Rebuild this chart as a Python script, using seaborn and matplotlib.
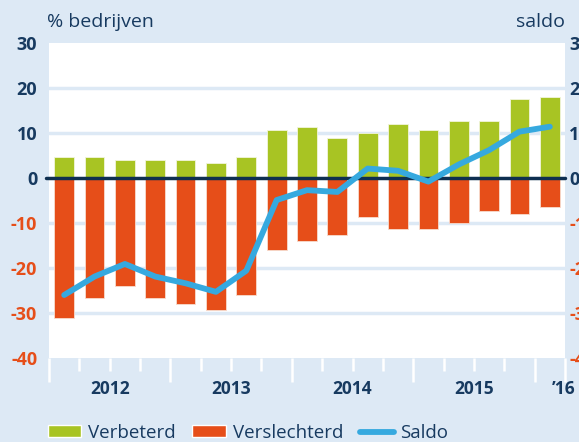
import matplotlib
matplotlib.use("Agg")
import matplotlib.pyplot as plt
import seaborn as sns
import pandas as pd
from matplotlib.patches import Patch
from matplotlib.lines import Line2D

# Data (quarters 2012 Q1 .. 2016 Q1)
quarters = ["2012K1", "2012K2", "2012K3", "2012K4",
            "2013K1", "2013K2", "2013K3", "2013K4",
            "2014K1", "2014K2", "2014K3", "2014K4",
            "2015K1", "2015K2", "2015K3", "2015K4",
            "2016K1"]
verbeterd = [4.7, 4.7, 4.0, 4.0, 4.0, 3.4, 4.7, 10.7, 11.4, 8.8, 10.1,
             12.1, 10.7, 12.7, 12.7, 17.5, 18.1]
verslechterd = [-31.2, -26.7, -24.0, -26.7, -28.0, -29.3, -26.0, -16.0,
                -13.9, -12.6, -8.6, -11.3, -11.3, -9.9, -7.3, -8.0, -6.5]
saldo = [-26.0, -21.9, -19.1, -21.9, -23.4, -25.3, -20.6, -4.9, -2.7,
         -3.1, 2.1, 1.6, -0.8, 3.0, 6.2, 10.3, 11.4]
year_labels = ["2012", "2013", "2014", "2015", "\u201916"]
y_ticks = [-40, -30, -20, -10, 0, 10, 20, 30]

BG = "#dde9f5"
NAVY = "#173a60"
GREEN = "#a8c423"
ORANGE = "#e64e19"
BLUE = "#36a9df"

sns.set_style("white")
plt.rcParams["font.family"] = ["Open Sans", "DejaVu Sans"]

df = pd.DataFrame({"kwartaal": quarters, "verbeterd": verbeterd,
                   "verslechterd": verslechterd, "saldo": saldo})
df["pos"] = range(len(df))

fig = plt.figure(figsize=(5.79, 4.42), dpi=100, facecolor=BG)
ax = fig.add_axes([49 / 579, 84 / 442, 516 / 579, 315 / 442])
ax.set_facecolor("white")

# grid
for v in [-30, -20, -10, 10, 20]:
    ax.axhline(v, color=BG, lw=2.5, zorder=0)

sns.barplot(data=df, x="pos", y="verbeterd", color=GREEN, width=0.65,
            saturation=1, edgecolor="#f2f5dc", linewidth=0.6, ax=ax, zorder=2)
sns.barplot(data=df, x="pos", y="verslechterd", color=ORANGE, width=0.65,
            saturation=1, edgecolor="#f7dccf", linewidth=0.6, ax=ax, zorder=2)
ax.axhline(0, color="#0e2f50", lw=2.5, zorder=3, xmin=-0.005, clip_on=False)
sns.lineplot(data=df, x="pos", y="saldo", color=BLUE, lw=4.2,
             solid_capstyle="round", solid_joinstyle="round", ax=ax, zorder=4)

ax.set_xlim(-0.5, len(quarters) - 0.5)
ax.set_ylim(-40, 30)
ax.set_xlabel("")
ax.set_ylabel("")
for s in ax.spines.values():
    s.set_visible(False)

# x ticks: long at year boundaries, short at quarters
ax.set_xticks([-0.5, 3.5, 7.5, 11.5, 15.5, 16.5])
ax.set_xticks([i + 0.5 for i in range(-1, 17)], minor=True)
ax.set_xticklabels([])
ax.tick_params(axis="x", which="both", bottom=True)
ax.tick_params(axis="x", which="major", length=17, width=1.8, color="white",
               direction="out")
ax.tick_params(axis="x", which="minor", length=9, width=1.8, color="white",
               direction="out")
for xp, lab in zip([1.5, 5.5, 9.5, 13.5, 16.45], year_labels):
    ax.text(xp, -47.0, lab, ha="center", va="center", fontsize=12.5,
            fontweight="bold", color=NAVY)

ax.set_yticks(y_ticks)
ax.set_yticklabels([str(v) for v in y_ticks])
ax.tick_params(axis="y", length=0, pad=8.5, labelsize=13)
for t, v in zip(ax.get_yticklabels(), y_ticks):
    t.set_fontweight("bold")
    t.set_color(ORANGE if v < 0 else NAVY)

ax2 = ax.twinx()
ax2.set_ylim(-40, 30)
ax2.set_yticks(y_ticks)
ax2.set_yticklabels([str(v) for v in y_ticks])
ax2.tick_params(axis="y", length=0, pad=3, labelsize=13)
for t, v in zip(ax2.get_yticklabels(), y_ticks):
    t.set_fontweight("bold")
    t.set_color(ORANGE if v < 0 else NAVY)
for s in ax2.spines.values():
    s.set_visible(False)

fig.text(47 / 579, 1 - 22 / 442, "% bedrijven", fontsize=14, color=NAVY,
         ha="left", va="center")
fig.text(565 / 579, 1 - 22 / 442, "saldo", fontsize=14, color=NAVY,
         ha="right", va="center")

handles = [Patch(facecolor=GREEN, label="Verbeterd"),
           Patch(facecolor=ORANGE, label="Verslechterd"),
           Line2D([0], [0], color=BLUE, lw=4.2, label="Saldo")]
fig.legend(handles=handles, loc="center left",
           bbox_to_anchor=(40 / 579, 1 - 433 / 442), borderaxespad=0,
           ncol=3, frameon=False, fontsize=13.5, labelcolor=NAVY,
           handlelength=1.8, handleheight=0.6, handletextpad=0.35,
           columnspacing=0.9)

fig.savefig("out.png", dpi=100, facecolor=BG)
